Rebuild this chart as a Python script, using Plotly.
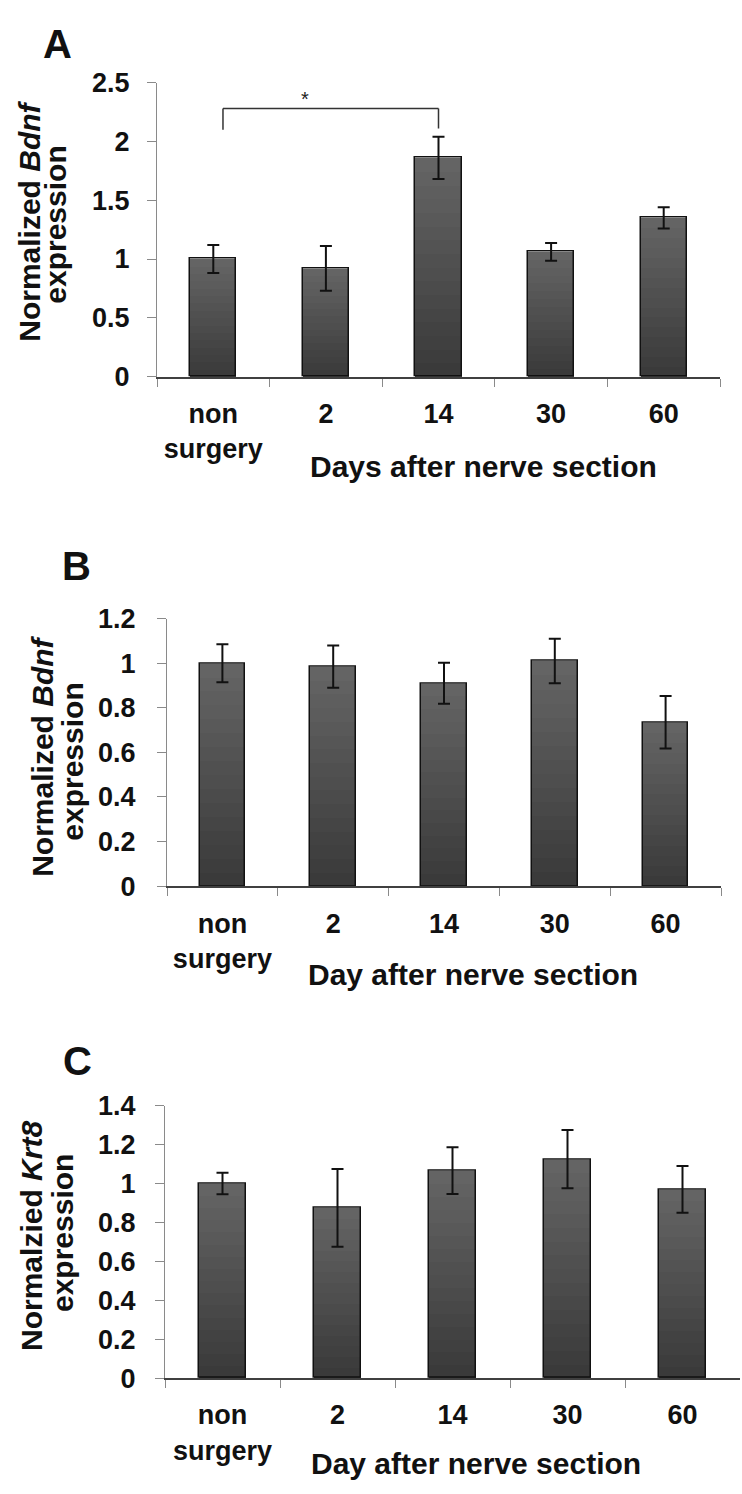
import plotly.graph_objects as go

# ---- data ----
categories = ["non<br>surgery", "2", "14", "30", "60"]

bdnf_a_mean = [1.00, 0.92, 1.86, 1.06, 1.35]
bdnf_a_sem = [0.12, 0.19, 0.18, 0.075, 0.09]

bdnf_b_mean = [1.00, 0.985, 0.91, 1.01, 0.735]
bdnf_b_sem = [0.085, 0.095, 0.092, 0.10, 0.118]

krt8_mean = [1.00, 0.875, 1.066, 1.125, 0.97]
krt8_sem = [0.055, 0.20, 0.12, 0.15, 0.12]

y_ticks_a = [0, 0.5, 1, 1.5, 2, 2.5]
y_ticks_b = [0, 0.2, 0.4, 0.6, 0.8, 1.0, 1.2]
y_ticks_c = [0, 0.2, 0.4, 0.6, 0.8, 1.0, 1.2, 1.4]

# significance bracket for panel A (category index positions, values)
bracket_left = 0.086
bracket_right = 2.0
bracket_top = 2.28
bracket_left_end = 2.10
bracket_right_end = 2.11

W, H = 742, 1494
FONT = "Arial, 'Liberation Sans', sans-serif"


def px_x(v):
    return v / W


def px_y(v):
    return 1 - v / H


fig = go.Figure()

N_LAYERS = 16
TOP_RGB = (100, 100, 100)
BOT_RGB = (58, 58, 58)


def add_bars(xa, ya, means, sems):
    # vertical shading inside each bar: successively shorter, darker layers
    for k in range(N_LAYERS):
        t = k / (N_LAYERS - 1)
        c = tuple(round(TOP_RGB[i] + (BOT_RGB[i] - TOP_RGB[i]) * t) for i in range(3))
        frac = 1 - k / N_LAYERS
        fig.add_trace(go.Bar(
            x=categories, y=[m * frac for m in means],
            width=0.41, marker=dict(color="rgb(%d,%d,%d)" % c, line=dict(width=0)),
            xaxis=xa, yaxis=ya, showlegend=False, hoverinfo="skip",
        ))
    # outline + error bars
    fig.add_trace(go.Bar(
        x=categories, y=means, width=0.41,
        marker=dict(color="rgba(0,0,0,0)", line=dict(color="#111111", width=1.5)),
        error_y=dict(type="data", array=sems, visible=True,
                     color="#111111", thickness=2, width=6),
        xaxis=xa, yaxis=ya, showlegend=False,
    ))


add_bars("x", "y", bdnf_a_mean, bdnf_a_sem)
add_bars("x2", "y2", bdnf_b_mean, bdnf_b_sem)
add_bars("x3", "y3", krt8_mean, krt8_sem)

tick_font = dict(family=FONT, size=27, color="#111111", weight="bold")


def xaxis_cfg(domain, anchor):
    return dict(
        domain=domain, anchor=anchor, type="category", range=[-0.5, 4.5],
        showline=True, linecolor="#404040", linewidth=2,
        ticks="outside", tickson="boundaries", ticklen=8, tickcolor="#8a8a8a", tickwidth=1,
        tickfont=dict(family=FONT, size=27, color="#111111", weight="bold"),
        ticklabelstandoff=12, showgrid=False, zeroline=False, fixedrange=True,
    )


def yaxis_cfg(domain, anchor, rng, ticks, standoff):
    return dict(
        domain=domain, anchor=anchor, range=rng,
        tickvals=ticks, ticktext=["%g" % t for t in ticks],
        showline=True, linecolor="#8a8a8a", linewidth=1,
        ticks="outside", ticklen=9, tickcolor="#8a8a8a", tickwidth=1,
        tickfont=tick_font, ticklabelstandoff=standoff,
        showgrid=False, zeroline=False, fixedrange=True,
    )


fig.update_layout(
    width=W, height=H, margin=dict(l=0, r=0, t=0, b=0),
    paper_bgcolor="white", plot_bgcolor="white",
    barmode="overlay", bargap=0,
    xaxis=xaxis_cfg([px_x(157), px_x(720)], "y"),
    yaxis=yaxis_cfg([px_y(369), px_y(69)], "x", [0, 2.5], y_ticks_a, 12),
    xaxis2=xaxis_cfg([px_x(167), px_x(721)], "y2"),
    yaxis2=yaxis_cfg([px_y(889), px_y(616)], "x2", [0, 1.2], y_ticks_b, 16),
    xaxis3=xaxis_cfg([px_x(165), px_x(740)], "y3"),
    yaxis3=yaxis_cfg([px_y(1391), px_y(1113)], "x3", [0, 1.4], y_ticks_c, 14),
)

# significance bracket
line_style = dict(color="#333333", width=1.5)
fig.add_shape(type="line", xref="x", yref="y", x0=bracket_left, x1=bracket_right,
              y0=bracket_top, y1=bracket_top, line=line_style)
fig.add_shape(type="line", xref="x", yref="y", x0=bracket_left, x1=bracket_left,
              y0=bracket_top, y1=bracket_left_end, line=line_style)
fig.add_shape(type="line", xref="x", yref="y", x0=bracket_right, x1=bracket_right,
              y0=bracket_top, y1=bracket_right_end, line=line_style)
fig.add_annotation(xref="x", yref="y", x=0.81, y=2.36, text="*", showarrow=False,
                   font=dict(family=FONT, size=20, color="#222222"))


def paper_text(x, y, text, size, angle=0, weight="bold"):
    fig.add_annotation(xref="paper", yref="paper", x=px_x(x), y=px_y(y),
                       xanchor="center", yanchor="middle", text=text, textangle=angle,
                       showarrow=False,
                       font=dict(family=FONT, size=size, color="#111111", weight=weight))


# panel letters
paper_text(57, 30, "A", 40)
paper_text(76, 562, "B", 40)
paper_text(77, 1067, "C", 40)

# x-axis titles
paper_text(483, 461, "Days after nerve section", 30)
paper_text(473, 979, "Day after nerve section", 30)
paper_text(476, 1478, "Day after nerve section", 30)

# y-axis titles (two lines each)
paper_text(30, 211, "Normalized <i>Bdnf</i>", 30, -90)
paper_text(56, 214, "expression", 30, -90)
paper_text(43, 757, "Normalized <i>Bdnf</i>", 30, -90)
paper_text(73, 762, "expression", 30, -90)
paper_text(32, 1246, "Normalzied <i>Krt8</i>", 30, -90)
paper_text(62, 1243, "expression", 30, -90)

fig.write_html("out.html")
